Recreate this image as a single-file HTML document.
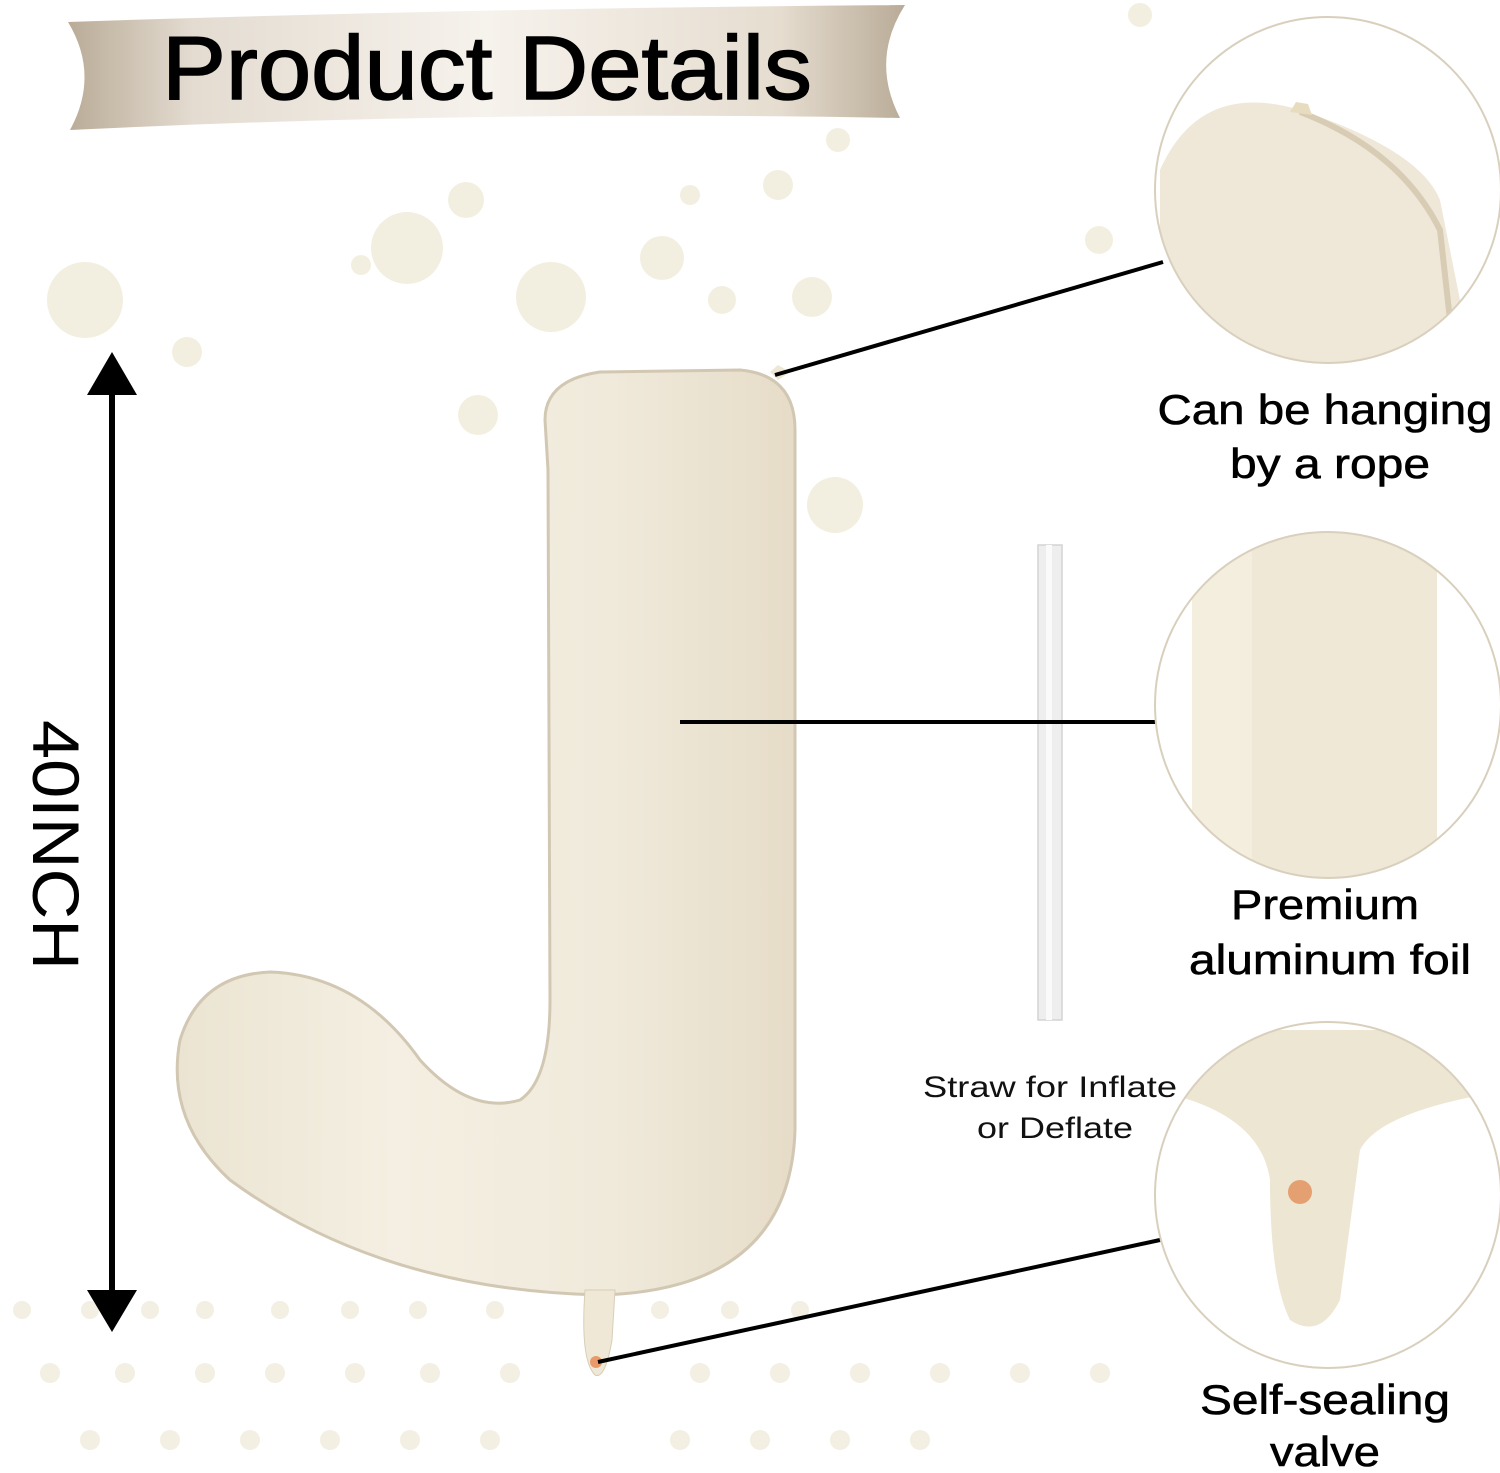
<!DOCTYPE html>
<html><head><meta charset="utf-8"><style>
html,body{margin:0;padding:0;background:#fff;}
svg{display:block}
</style></head><body>
<svg width="1500" height="1473" viewBox="0 0 1500 1473" xmlns="http://www.w3.org/2000/svg" font-family="Liberation Sans, sans-serif">
<defs>
<linearGradient id="rib" x1="0" x2="1" y1="0" y2="0">
<stop offset="0" stop-color="#b9ab97"/><stop offset="0.15" stop-color="#e4dcd1"/><stop offset="0.5" stop-color="#f6f2ec"/><stop offset="0.85" stop-color="#e6ddd0"/><stop offset="1" stop-color="#b9ab97"/>
</linearGradient>
<linearGradient id="jg" x1="0" x2="1" y1="0" y2="0">
<stop offset="0" stop-color="#ebe4d2"/><stop offset="0.35" stop-color="#f4efe2"/><stop offset="0.7" stop-color="#f0eadb"/><stop offset="1" stop-color="#e6dcc8"/>
</linearGradient>
<clipPath id="c1"><circle cx="1328" cy="190" r="173"/></clipPath>
<clipPath id="c2"><circle cx="1328" cy="705" r="173"/></clipPath>
<clipPath id="c3"><circle cx="1328" cy="1195" r="173"/></clipPath>
</defs>
<path d="M68,22 Q480,8 905,5 Q870,60 900,118 Q480,110 70,130 Q100,75 68,22 Z" fill="url(#rib)"/>
<text x="487" y="99" font-size="90" textLength="650" lengthAdjust="spacingAndGlyphs" text-anchor="middle" fill="#000" stroke="#000" stroke-width="1.5">Product Details</text>
<g fill="#f3efe0">
<circle cx="85" cy="300" r="38"/><circle cx="187" cy="352" r="15"/><circle cx="407" cy="248" r="36"/><circle cx="361" cy="265" r="10"/>
<circle cx="466" cy="200" r="18"/><circle cx="551" cy="297" r="35"/><circle cx="662" cy="258" r="22"/><circle cx="722" cy="300" r="14"/>
<circle cx="812" cy="297" r="20"/><circle cx="778" cy="185" r="15"/><circle cx="838" cy="140" r="12"/><circle cx="1099" cy="240" r="14"/>
<circle cx="1140" cy="15" r="12"/><circle cx="835" cy="505" r="28"/><circle cx="478" cy="415" r="20"/><circle cx="690" cy="195" r="10"/>
</g>
<g fill="#f3efe2">
<circle cx="22" cy="1310" r="9"/><circle cx="90" cy="1310" r="9"/><circle cx="150" cy="1310" r="9"/><circle cx="205" cy="1310" r="9"/><circle cx="280" cy="1310" r="9"/><circle cx="350" cy="1310" r="9"/><circle cx="418" cy="1310" r="9"/><circle cx="495" cy="1310" r="9"/><circle cx="660" cy="1310" r="9"/><circle cx="730" cy="1310" r="9"/><circle cx="800" cy="1310" r="9"/>
<circle cx="50" cy="1373" r="10"/><circle cx="125" cy="1373" r="10"/><circle cx="205" cy="1373" r="10"/><circle cx="275" cy="1373" r="10"/><circle cx="355" cy="1373" r="10"/><circle cx="430" cy="1373" r="10"/><circle cx="510" cy="1373" r="10"/><circle cx="700" cy="1373" r="10"/><circle cx="780" cy="1373" r="10"/><circle cx="860" cy="1373" r="10"/><circle cx="940" cy="1373" r="10"/><circle cx="1020" cy="1373" r="10"/><circle cx="1100" cy="1373" r="10"/>
<circle cx="90" cy="1440" r="10"/><circle cx="170" cy="1440" r="10"/><circle cx="250" cy="1440" r="10"/><circle cx="330" cy="1440" r="10"/><circle cx="410" cy="1440" r="10"/><circle cx="490" cy="1440" r="10"/><circle cx="680" cy="1440" r="10"/><circle cx="760" cy="1440" r="10"/><circle cx="840" cy="1440" r="10"/><circle cx="920" cy="1440" r="10"/>
</g>
<line x1="112" y1="385" x2="112" y2="1298" stroke="#000" stroke-width="6"/>
<polygon points="112,352 87,395 137,395" fill="#000"/>
<polygon points="112,1332 87,1290 137,1290" fill="#000"/>
<text transform="translate(33,845) rotate(90)" font-size="66" textLength="250" lengthAdjust="spacingAndGlyphs" text-anchor="middle" fill="#000">40INCH</text>
<path d="M545,420 Q545,380 600,372 L740,370 Q795,375 795,430 L795,1130 Q790,1290 600,1295 Q380,1290 230,1180 Q165,1120 180,1040 Q200,975 270,972 Q360,975 420,1060 Q470,1115 520,1100 Q550,1080 550,1000 L548,470 Z" fill="url(#jg)" stroke="#d2c7b2" stroke-width="3"/>
<path d="M585,1290 L615,1290 L612,1340 Q605,1380 595,1375 Q580,1360 585,1290 Z" fill="#efe8d6" stroke="#d8cdb8"/>
<circle cx="596" cy="1362" r="6" fill="#e99a6a"/>
<path d="M770,372 L778,365 L790,372 L778,380 Z" fill="#eee7d6"/>
<rect x="1038" y="545" width="24" height="475" fill="#eeeeee" stroke="#d4d4d4" stroke-width="1.5"/>
<rect x="1046" y="545" width="6" height="475" fill="#fafafa"/>
<text x="1050" y="1097" font-size="30" textLength="254" lengthAdjust="spacingAndGlyphs" text-anchor="middle" fill="#111">Straw for Inflate</text>
<text x="1055" y="1138" font-size="30" textLength="156" lengthAdjust="spacingAndGlyphs" text-anchor="middle" fill="#111">or Deflate</text>
<line x1="775" y1="375" x2="1163" y2="262" stroke="#000" stroke-width="4"/>
<line x1="680" y1="722" x2="1157" y2="722" stroke="#000" stroke-width="4"/>
<line x1="598" y1="1362" x2="1160" y2="1240" stroke="#000" stroke-width="4"/>
<g clip-path="url(#c1)">
<rect x="1150" y="10" width="360" height="360" fill="#fff"/>
<path d="M1160,170 Q1200,80 1300,110 Q1420,150 1440,200 L1460,300 Q1440,380 1300,380 Q1180,370 1160,280 Z" fill="#efe8d8"/>
<path d="M1300,112 Q1400,150 1440,230 L1450,320" fill="none" stroke="#d8ccb4" stroke-width="6"/>
</g>
<circle cx="1328" cy="190" r="173" fill="none" stroke="#d9cfbd" stroke-width="2"/>
<path d="M1290,112 L1296,102 L1308,104 L1312,115 Z" fill="#e8dcc0"/>
<g clip-path="url(#c2)">
<rect x="1150" y="530" width="360" height="360" fill="#fff"/>
<rect x="1192" y="530" width="245" height="360" fill="#efe8d6"/>
<rect x="1192" y="530" width="60" height="360" fill="#f4eedf"/>
</g>
<circle cx="1328" cy="705" r="173" fill="none" stroke="#d9cfbd" stroke-width="2"/>
<g clip-path="url(#c3)">
<rect x="1150" y="1020" width="360" height="360" fill="#fff"/>
<path d="M1150,1030 L1510,1030 L1510,1090 Q1380,1110 1360,1150 L1340,1300 Q1320,1340 1290,1320 Q1270,1280 1270,1180 Q1260,1110 1150,1090 Z" fill="#ede6d2"/>
<circle cx="1300" cy="1192" r="12" fill="#e4a070"/>
</g>
<circle cx="1328" cy="1195" r="173" fill="none" stroke="#d9cfbd" stroke-width="2"/>
<g font-size="42" text-anchor="middle" fill="#000" stroke="#000" stroke-width="0.6">
<text x="1325" y="424" textLength="335" lengthAdjust="spacingAndGlyphs">Can be hanging</text>
<text x="1330" y="478" textLength="200" lengthAdjust="spacingAndGlyphs">by a rope</text>
<text x="1325" y="919" textLength="188" lengthAdjust="spacingAndGlyphs">Premium</text>
<text x="1330" y="974" textLength="282" lengthAdjust="spacingAndGlyphs">aluminum foil</text>
<text x="1325" y="1414" textLength="250" lengthAdjust="spacingAndGlyphs">Self-sealing</text>
<text x="1325" y="1466" textLength="110" lengthAdjust="spacingAndGlyphs">valve</text>
</g>
</svg>
</body></html>
